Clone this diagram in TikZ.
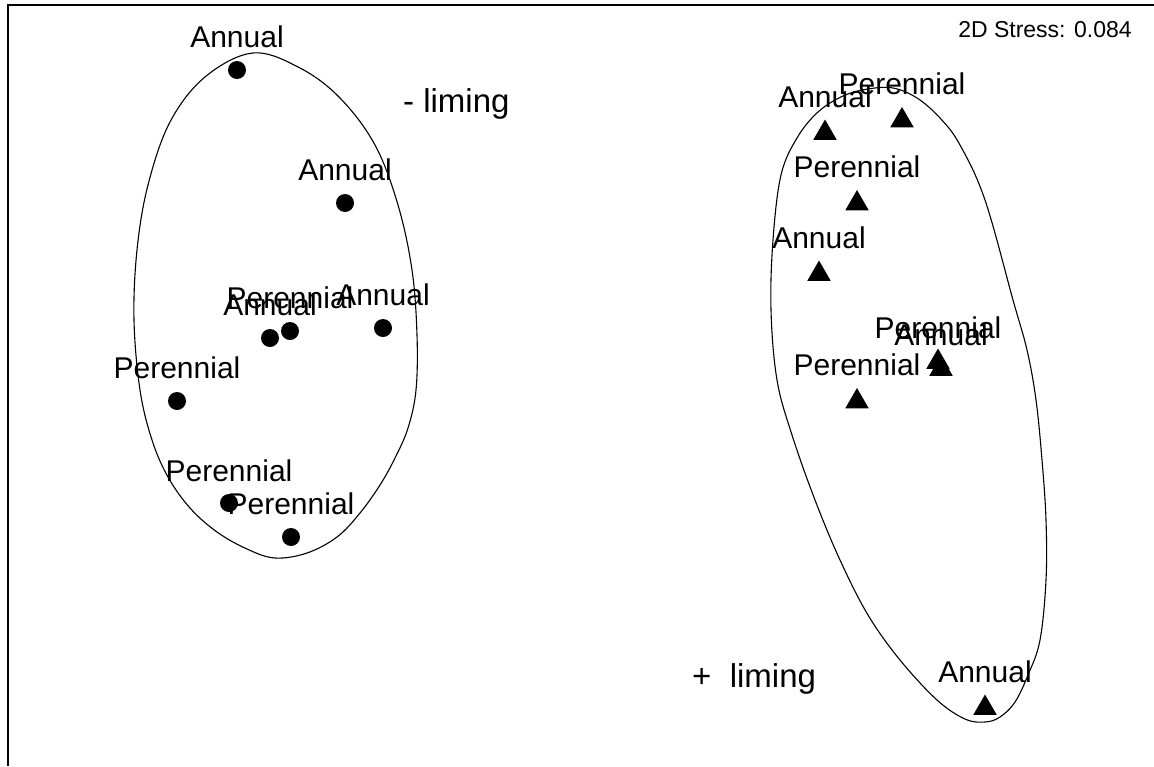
\documentclass[tikz,border=0pt]{standalone}
\usepackage{fontspec}
\setmainfont{Liberation Sans}
\usetikzlibrary{shapes.geometric}
\begin{document}
\begin{tikzpicture}[x=1pt,y=-1pt,
  dot/.style={circle, fill=black, inner sep=0pt, minimum size=18pt},
  tri/.style={regular polygon, regular polygon sides=3, fill=black, inner sep=0pt, minimum size=27pt},
  lbl/.style={font=\fontsize{30}{36}\selectfont, inner sep=0pt, anchor=base},
  hull/.style={line width=1.1pt},
  frame/.style={line width=1.5pt}]
\useasboundingbox (0,0) rectangle (1154,766);
\fill[white] (0,0) rectangle (1154,766);

% plot frame (top and left edges)
\draw[frame] (1154,5) -- (8,5) -- (8,766);

% group outlines
\draw[hull] plot[smooth cycle, tension=0.6] coordinates {
  (253,53) (300,68) (340,98) (375,145) (398,205) (412,270) (417,335)
  (416,390) (408,428) (395,458) (380,485) (360,513) (337,537) (307,553)
  (275,558) (247,549) (217,532) (190,508) (168,477) (152,440) (140,390)
  (134,320) (137,250) (148,185) (170,122) (205,77)};
\draw[hull] plot[smooth cycle, tension=0.6] coordinates {
  (893,88) (917,98) (940,118) (960,145) (985,200) (1013,300) (1027,350)
  (1036,400) (1042,460) (1046,520) (1046,580) (1040,640) (1028,675)
  (1015,702) (1000,717) (985,722) (965,719) (937,700) (900,660) (868,615)
  (840,560) (815,500) (792,435) (777,380) (771,310) (773,240) (781,175)
  (797,138) (818,112) (843,96) (868,89)};

% samples without liming
\node[dot] (c1) at (237,70) {};
\node[dot] (c2) at (345,203) {};
\node[dot] (c3) at (270,338) {};
\node[dot] (c4) at (290,331) {};
\node[dot] (c5) at (383,328) {};
\node[dot] (c6) at (177,401) {};
\node[dot] (c7) at (229,503) {};
\node[dot] (c8) at (291,537) {};

\node[lbl] (lc1) at ([yshift=23pt]c1.center) {Annual};
\node[lbl] (lc2) at ([yshift=23pt]c2.center) {Annual};
\node[lbl] (lc3) at ([yshift=23pt]c3.center) {Annual};
\node[lbl] (lc4) at ([yshift=23pt]c4.center) {Perennial};
\node[lbl] (lc5) at ([yshift=23pt]c5.center) {Annual};
\node[lbl] (lc6) at ([yshift=23pt]c6.center) {Perennial};
\node[lbl] (lc7) at ([yshift=22pt]c7.center) {Perennial};
\node[lbl] (lc8) at ([yshift=23pt]c8.center) {Perennial};

% samples with liming
\node[tri] (t1) at (825,133) {};
\node[tri] (t2) at (902,120.5) {};
\node[tri] (t3) at (857,203.5) {};
\node[tri] (t4) at (819,274) {};
\node[tri] (t5) at (938,362) {};
\node[tri] (t6) at (941,369) {};
\node[tri] (t7) at (857,401.5) {};
\node[tri] (t8) at (985,708) {};

\node[lbl] (lt1) at ([yshift=26pt]t1.center) {Annual};
\node[lbl] (lt2) at ([yshift=26pt]t2.center) {Perennial};
\node[lbl] (lt3) at ([yshift=26pt]t3.center) {Perennial};
\node[lbl] (lt4) at ([yshift=26pt]t4.center) {Annual};
\node[lbl] (lt5) at ([yshift=24pt]t5.center) {Perennial};
\node[lbl] (lt6) at ([yshift=24pt]t6.center) {Annual};
\node[lbl] (lt7) at ([yshift=26pt]t7.center) {Perennial};
\node[lbl] (lt8) at ([yshift=26pt]t8.center) {Annual};

% annotations
\node[font=\fontsize{33}{40}\selectfont, inner sep=0pt, anchor=base west] (minus) at (403,112) {- liming};
\node[font=\fontsize{33}{40}\selectfont, inner sep=0pt, anchor=base west] (plus) at (692,687) {+\ \ liming};
\node[font=\fontsize{23}{28}\selectfont, inner sep=0pt, anchor=base] (stress) at (1045,37) {2D Stress: 0.084};
\end{tikzpicture}
\end{document}
